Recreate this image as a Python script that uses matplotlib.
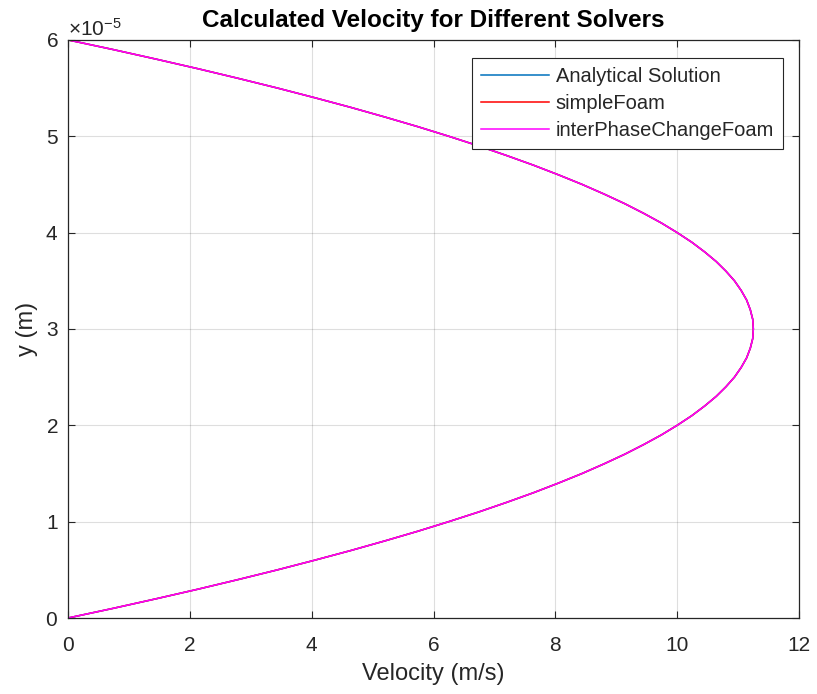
import numpy as np
import matplotlib.pyplot as plt
from matplotlib.ticker import ScalarFormatter

plt.rcParams['font.family'] = ['Liberation Sans', 'DejaVu Sans']
plt.rcParams['mathtext.fontset'] = 'custom'
plt.rcParams['mathtext.rm'] = 'Liberation Sans'
plt.rcParams['mathtext.it'] = 'Liberation Sans:italic'

# channel height positions (m), 0.1e-5 spacing across the gap
y_pos = np.linspace(0, 6e-5, 61)

# velocity profiles (m/s)
u_analytical = [0.0, 0.74, 1.45, 2.14, 2.8, 3.44, 4.05, 4.64, 5.2, 5.74,
                6.25, 6.74, 7.2, 7.64, 8.05, 8.44, 8.8, 9.14, 9.45, 9.74,
                10.0, 10.24, 10.45, 10.64, 10.8, 10.94, 11.05, 11.14, 11.2, 11.24,
                11.25,
                11.24, 11.2, 11.14, 11.05, 10.94, 10.8, 10.64, 10.45, 10.24, 10.0,
                9.74, 9.45, 9.14, 8.8, 8.44, 8.05, 7.64, 7.2, 6.74, 6.25,
                5.74, 5.2, 4.64, 4.05, 3.44, 2.8, 2.14, 1.45, 0.74, 0.0]
u_simplefoam = list(u_analytical)
u_interphase = list(u_analytical)

dark = (0.15, 0.15, 0.15)

fig = plt.figure(figsize=(8.17, 6.94), dpi=100)
ax = fig.add_axes([0.0832, 0.1095, 0.8948, 0.833])

ax.plot(u_analytical, y_pos, color=(0.0, 0.447, 0.741), lw=1.1, label='Analytical Solution')
ax.plot(u_simplefoam, y_pos, color='red', lw=1.1, label='simpleFoam')
ax.plot(u_interphase, y_pos, color='magenta', lw=1.1, label='interPhaseChangeFoam')

ax.set_xlim(0, 12)
ax.set_ylim(0, 6e-5)
ax.set_xticks([0, 2, 4, 6, 8, 10, 12])
ax.set_yticks([0, 1e-5, 2e-5, 3e-5, 4e-5, 5e-5, 6e-5])

fmt = ScalarFormatter(useMathText=True)
fmt.set_powerlimits((0, 0))
ax.yaxis.set_major_formatter(fmt)
ax.yaxis.get_offset_text().set_fontsize(15)
ax.yaxis.get_offset_text().set_color(dark)

ax.grid(True, color='black', alpha=0.13, lw=0.8)
ax.tick_params(direction='in', top=True, right=True, length=5, width=0.8,
               colors=dark, labelsize=15, pad=7)
ax.tick_params(axis='x', pad=13)
for s in ax.spines.values():
    s.set_color(dark)
    s.set_linewidth(0.9)

ax.set_xlabel('Velocity (m/s)', fontsize=17, color=dark, labelpad=6)
ax.set_ylabel('y (m)', fontsize=17, color=dark, labelpad=5)
ax.set_title('Calculated Velocity for Different Solvers', fontsize=17.5,
             fontweight='bold', pad=9)

leg = ax.legend(loc='upper right', bbox_to_anchor=(0.978, 0.969), fontsize=14.5,
                fancybox=False, framealpha=1, edgecolor=dark, handlelength=3.4,
                handletextpad=0.3, borderaxespad=0, borderpad=0.45, labelspacing=0.4)
leg.get_frame().set_linewidth(0.8)
for t in leg.get_texts():
    t.set_color(dark)

fig.savefig('out.png', dpi=100)
